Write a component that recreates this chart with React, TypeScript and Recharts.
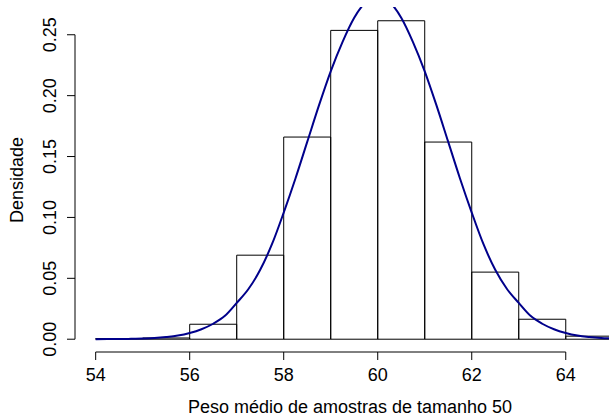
import {
  ComposedChart,
  Line,
  XAxis,
  YAxis,
  ReferenceArea,
  ReferenceLine,
} from 'recharts';

// histogram bins (density scale)
const binStarts = [54, 55, 56, 57, 58, 59, 60, 61, 62, 63, 64];
const binEnds = [55, 56, 57, 58, 59, 60, 61, 62, 63, 64, 65];
const binDensity = [
  0.0005, 0.001, 0.0123, 0.069, 0.166, 0.2536, 0.2615, 0.1619, 0.0551, 0.0164,
  0.0025,
];

// normal curve overlay, sampled by eye every 0.25
const curveX = [
  54, 54.25, 54.5, 54.75, 55, 55.25, 55.5, 55.75, 56, 56.25, 56.5, 56.75, 57,
  57.25, 57.5, 57.75, 58, 58.25, 58.5, 58.75, 59, 59.25, 59.5, 59.75, 60, 60.25,
  60.5, 60.75, 61, 61.25, 61.5, 61.75, 62, 62.25, 62.5, 62.75, 63, 63.25, 63.5,
  63.75, 64, 64.25, 64.5, 64.75, 65,
];
const curveDensity = [
  0.0, 0.0001, 0.0001, 0.0003, 0.0006, 0.001, 0.0018, 0.003, 0.0051, 0.0082,
  0.0127, 0.0192, 0.0298, 0.0412, 0.057, 0.078, 0.104, 0.132, 0.162, 0.192, 0.22,
  0.244, 0.264, 0.277, 0.282, 0.277, 0.264, 0.244, 0.22, 0.192, 0.162, 0.132,
  0.104, 0.078, 0.057, 0.0412, 0.0298, 0.0192, 0.0127, 0.0082, 0.0051, 0.003,
  0.0018, 0.001, 0.0006,
];

const xTicks = [54, 56, 58, 60, 62, 64];
const yTicks = [0, 0.05, 0.1, 0.15, 0.2, 0.25];

const X_DOMAIN: [number, number] = [53.56, 64.92];
const Y_DOMAIN: [number, number] = [-0.0105, 0.2728];

const FONT = '"Liberation Sans", Arial, Helvetica, sans-serif';
const INK = '#000';

const curveData = curveX.map((x, i) => ({ x, density: curveDensity[i] }));

function XTick(props: any) {
  const { x, y, payload } = props;
  return (
    <text x={x} y={y + 19} textAnchor="middle" fontSize={18} fontFamily={FONT} fill={INK}>
      {payload.value}
    </text>
  );
}

function YTick(props: any) {
  const { x, y, payload } = props;
  const bx = x - 9;
  return (
    <text
      x={bx}
      y={y}
      transform={`rotate(-90 ${bx} ${y})`}
      textAnchor="middle"
      fontSize={18}
      fontFamily={FONT}
      fill={INK}
    >
      {Number(payload.value).toFixed(2)}
    </text>
  );
}

function XTitle() {
  return (
    <text x={350} y={413} textAnchor="middle" fontSize={18} fontFamily={FONT} fill={INK}>
      Peso médio de amostras de tamanho 50
    </text>
  );
}

function YTitle() {
  return (
    <text
      x={23}
      y={180}
      transform="rotate(-90 23 180)"
      textAnchor="middle"
      fontSize={18}
      fontFamily={FONT}
      fill={INK}
    >
      Densidade
    </text>
  );
}

export default function App() {
  return (
    <div style={{ position: 'absolute', left: 0, top: 0, width: 609, height: 416, background: '#fff' }}>
      <ComposedChart
        width={609}
        height={416}
        data={curveData}
        margin={{ top: 7, right: 0, bottom: 0, left: 0 }}
      >
        <XAxis
          dataKey="x"
          type="number"
          domain={X_DOMAIN}
          allowDataOverflow
          ticks={xTicks}
          interval={0}
          height={64}
          tickSize={8}
          axisLine={false}
          tickLine={{ stroke: INK, strokeWidth: 1 }}
          tick={<XTick />}
          label={<XTitle />}
        />
        <YAxis
          type="number"
          domain={Y_DOMAIN}
          allowDataOverflow
          ticks={yTicks}
          interval={0}
          width={75}
          tickSize={8}
          axisLine={false}
          tickLine={{ stroke: INK, strokeWidth: 1 }}
          tick={<YTick />}
          label={<YTitle />}
        />
        <ReferenceLine
          segment={[
            { x: xTicks[0], y: Y_DOMAIN[0] },
            { x: xTicks[xTicks.length - 1], y: Y_DOMAIN[0] },
          ]}
          stroke={INK}
          strokeWidth={1}
          ifOverflow="visible"
        />
        <ReferenceLine
          segment={[
            { x: X_DOMAIN[0], y: yTicks[0] },
            { x: X_DOMAIN[0], y: yTicks[yTicks.length - 1] },
          ]}
          stroke={INK}
          strokeWidth={1}
          ifOverflow="visible"
        />
        {binStarts.map((start, i) => (
          <ReferenceArea
            key={start}
            x1={start}
            x2={binEnds[i]}
            y1={0}
            y2={binDensity[i]}
            fill="none"
            fillOpacity={0}
            stroke={INK}
            strokeWidth={1}
            strokeOpacity={1}
            ifOverflow="hidden"
          />
        ))}
        <Line
          dataKey="density"
          type="monotone"
          stroke="#00008B"
          strokeWidth={2}
          dot={false}
          activeDot={false}
          isAnimationActive={false}
        />
      </ComposedChart>
    </div>
  );
}
